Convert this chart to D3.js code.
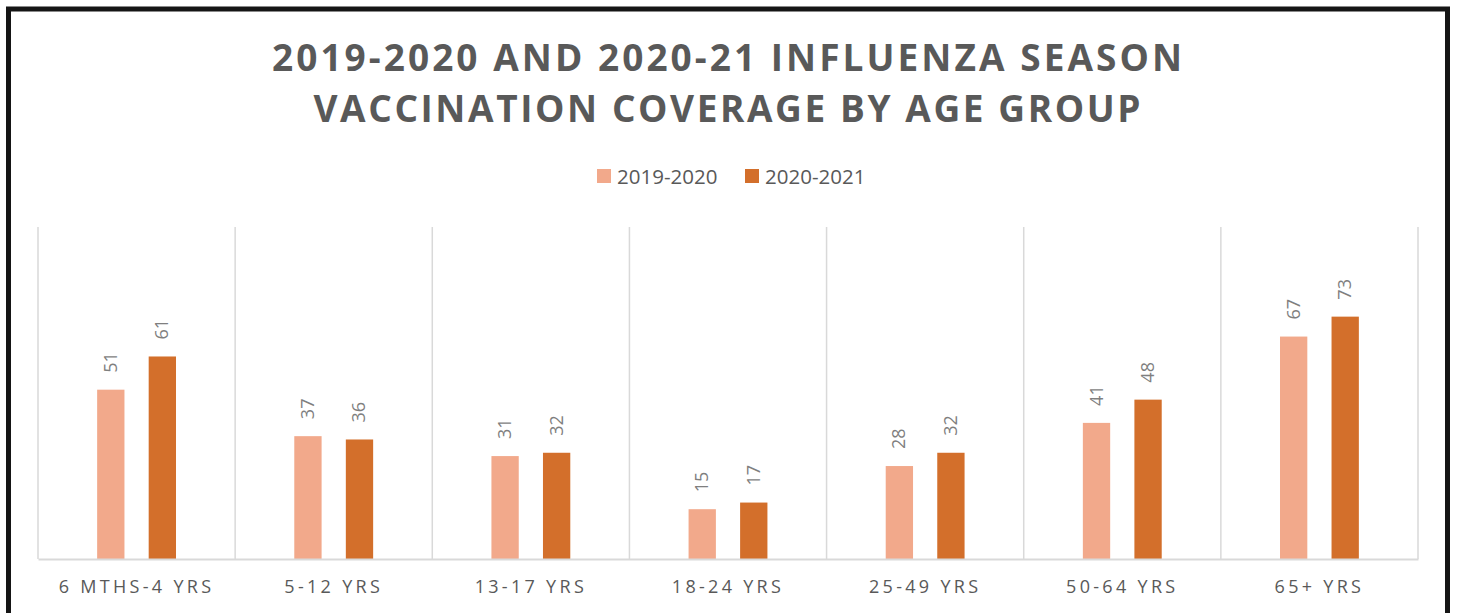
<!DOCTYPE html>
<html>
<head>
<meta charset="utf-8">
<script src="https://cdn.jsdelivr.net/npm/d3@7"></script>
<style>
  body { margin: 0; background: #fff; }
  svg { display: block; font-family: "Open Sans", "DejaVu Sans", sans-serif; }
</style>
</head>
<body>
<svg width="1457" height="613"></svg>
<script>
var categories = ["6 MTHS-4 YRS", "5-12 YRS", "13-17 YRS", "18-24 YRS", "25-49 YRS", "50-64 YRS", "65+ YRS"];
var seriesNames = ["2019-2020", "2020-2021"];
var values2019 = [51, 37, 31, 15, 28, 41, 67];
var values2021 = [61, 36, 32, 17, 32, 48, 73];
var titleLines = ["2019-2020 AND 2020-21 INFLUENZA SEASON", "VACCINATION COVERAGE BY AGE GROUP"];

var colors = ["#f2a98b", "#d36f2b"];

var svg = d3.select("svg"),
    margin = {top: 227, right: 39, bottom: 54, left: 38},
    width = +svg.attr("width") - margin.left - margin.right,
    height = +svg.attr("height") - margin.top - margin.bottom;

// frame
svg.append("rect")
  .attr("x", 8.5).attr("y", 9).attr("width", 1439).attr("height", 620)
  .attr("fill", "#fff").attr("stroke", "#151515").attr("stroke-width", 5);

// title
var title = svg.append("g");
var titleW = [910, 827];
titleLines.forEach(function (t, i) {
  title.append("text")
    .attr("x", 727).attr("y", 71 + i * 51)
    .attr("text-anchor", "middle")
    .attr("font-size", 37).attr("font-weight", "bold")
    .attr("fill", "#595959")
    .attr("textLength", titleW[i]).attr("lengthAdjust", "spacing")
    .text(t);
});

// legend
var legend = svg.append("g").attr("transform", "translate(597,169)");
seriesNames.forEach(function (s, i) {
  var lg = legend.append("g").attr("transform", "translate(" + (i * 148) + ",0)");
  lg.append("rect").attr("width", 14).attr("height", 14).attr("fill", colors[i]);
  lg.append("text").attr("x", 20).attr("y", 14.5)
    .attr("font-size", 20.5).attr("fill", "#595959").text(s);
});

var g = svg.append("g").attr("transform", "translate(" + margin.left + "," + margin.top + ")");

var x = d3.scaleBand().domain(categories).range([0, width]);
var xs = d3.scaleBand().domain(seriesNames).range([x.bandwidth() * 0.3, x.bandwidth() * 0.7]).paddingInner(0.47);
var y = d3.scaleLinear().domain([0, 100]).range([height, 0]);

// vertical gridlines at category boundaries
var bounds = categories.map(function (c) { return x(c); }).concat([width]);
g.selectAll(".grid").data(bounds).enter().append("line")
  .attr("x1", function (d) { return d; }).attr("x2", function (d) { return d; })
  .attr("y1", 0).attr("y2", height)
  .attr("stroke", "#d9d9d9").attr("stroke-width", 1.5);

var data = categories.map(function (c, i) {
  return {cat: c, vals: [values2019[i], values2021[i]]};
});

var grp = g.selectAll(".cat").data(data).enter().append("g")
  .attr("transform", function (d) { return "translate(" + x(d.cat) + ",0)"; });

grp.selectAll("rect").data(function (d) {
    return d.vals.map(function (v, j) { return {s: seriesNames[j], v: v, j: j}; });
  }).enter().append("rect")
  .attr("x", function (d) { return xs(d.s); })
  .attr("width", xs.bandwidth())
  .attr("y", function (d) { return y(d.v); })
  .attr("height", function (d) { return height - y(d.v); })
  .attr("fill", function (d) { return colors[d.j]; });

grp.selectAll(".lbl").data(function (d) {
    return d.vals.map(function (v, j) { return {s: seriesNames[j], v: v}; });
  }).enter().append("text")
  .attr("transform", function (d) {
    return "translate(" + (xs(d.s) + xs.bandwidth() / 2 + 6) + "," + (y(d.v) - 17) + ") rotate(-90)";
  })
  .attr("font-size", 18).attr("fill", "#7f7f7f")
  .text(function (d) { return d.v; });

// x axis
var xAxis = g.append("g")
  .attr("transform", "translate(0," + height + ")")
  .call(d3.axisBottom(x).tickSize(0).tickPadding(21));
xAxis.select(".domain").attr("stroke", "#d9d9d9").attr("stroke-width", 2);
xAxis.selectAll("text")
  .attr("font-family", "'Open Sans', sans-serif")
  .attr("font-size", 18).attr("fill", "#595959")
  .style("letter-spacing", "3.3px");
</script>
</body>
</html>
